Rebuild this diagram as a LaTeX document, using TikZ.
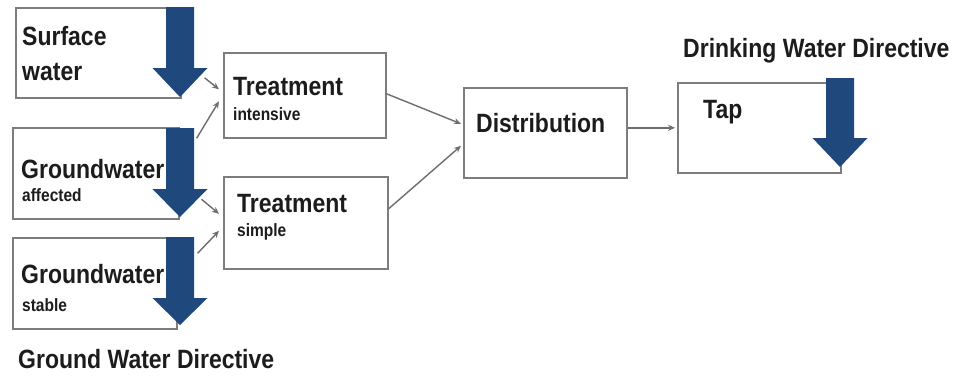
\documentclass[tikz,border=0pt]{standalone}
\usepackage{fontspec}
\setmainfont{Liberation Sans}
\usetikzlibrary{arrows.meta}
\definecolor{arrowblue}{RGB}{31,73,125}
\definecolor{boxgray}{RGB}{125,125,125}
\definecolor{conngray}{RGB}{110,110,110}
\definecolor{txt}{RGB}{28,28,28}
\newcommand\stx[1]{\scalebox{1}[1.15]{#1}}
\newcommand\bigt[1]{\stx{\fontsize{23pt}{26pt}\selectfont\bfseries #1}}
\newcommand\smallt[1]{\stx{\fontsize{15.5pt}{18pt}\selectfont\bfseries #1}}
\newcommand\bluearrowshape[4]{% cx, top, headstart, tip
  \fill[arrowblue] ({#1-14},#2) -- ({#1+14},#2) -- ({#1+14},#3) -- ({#1+27.5},#3)
    -- (#1,#4) -- ({#1-27.5},#3) -- ({#1-14},#3) -- cycle;}
\begin{document}
\begin{tikzpicture}[x=1pt,y=-1pt,
  box/.style={draw=boxgray, line width=1.6pt, inner sep=0pt, anchor=north west},
  lbl/.style={anchor=base west, inner sep=0pt, text=txt},
  conn/.style={draw=conngray, line width=1.4pt, -{Stealth[length=7pt,width=6pt]}}]
\useasboundingbox[fill=white] (0,0) rectangle (969,376);

% boxes
\node[box, minimum width=165pt, minimum height=90pt] (sw) at (15,7) {};
\node[box, minimum width=166pt, minimum height=91pt] (ga) at (12,127) {};
\node[box, minimum width=164pt, minimum height=91pt] (gs) at (12,237) {};
\node[box, minimum width=162pt, minimum height=85pt] (ti) at (223,52) {};
\node[box, minimum width=164pt, minimum height=92pt] (ts) at (223,176) {};
\node[box, minimum width=163pt, minimum height=90pt] (di) at (463,87) {};
\node[box, minimum width=163pt, minimum height=90pt] (tap) at (677,82) {};

% texts
\node[lbl] (swa) at (22,45) {\bigt{Surface}};
\node[lbl] (swb) at (22,80) {\bigt{water}};
\node[lbl] (gaa) at (21,178) {\bigt{Groundwater}};
\node[lbl] (gab) at (22,201) {\smallt{affected}};
\node[lbl] (gsa) at (21,283) {\bigt{Groundwater}};
\node[lbl] (gsb) at (22,311) {\smallt{stable}};
\node[lbl] (tia) at (233,95) {\bigt{Treatment}};
\node[lbl] (tib) at (233,120) {\smallt{intensive}};
\node[lbl] (tsa) at (237,212) {\bigt{Treatment}};
\node[lbl] (tsb) at (237,236) {\smallt{simple}};
\node[lbl] (dit) at (476,132) {\bigt{Distribution}};
\node[lbl] (tapt) at (703,118) {\bigt{Tap}};
\node[lbl] (dwd) at (683,57) {\bigt{Drinking Water Directive}};
\node[lbl] (gwd) at (18,368) {\bigt{Ground Water Directive}};

% connectors
\draw[conn] ([shift={(23,25)}]sw.east) -- ([shift={(-4,-6)}]ti.west);
\draw[conn] ([shift={(17,-35)}]ga.east) -- ([shift={(-4,6)}]ti.west);
\draw[conn] ([shift={(22,26)}]ga.east) -- ([shift={(-4,-9)}]ts.west);
\draw[conn] ([shift={(20,-30)}]gs.east) -- ([shift={(-4,8)}]ts.west);
\draw[conn] ([shift={(0,-1.5)}]ti.east) -- ([shift={(-2,-9)}]di.west);
\draw[conn] ([shift={(0,-14)}]ts.east) -- ([shift={(-2,13)}]di.west);
\draw[conn] ([shift={(0,-5)}]di.east) -- ([shift={(-2,0)}]tap.west);

% blue arrows
\bluearrowshape{180}{7}{68}{97}
\bluearrowshape{180}{128}{189}{217}
\bluearrowshape{180}{237}{298}{325}
\bluearrowshape{840}{78}{138}{167}
\end{tikzpicture}
\end{document}
